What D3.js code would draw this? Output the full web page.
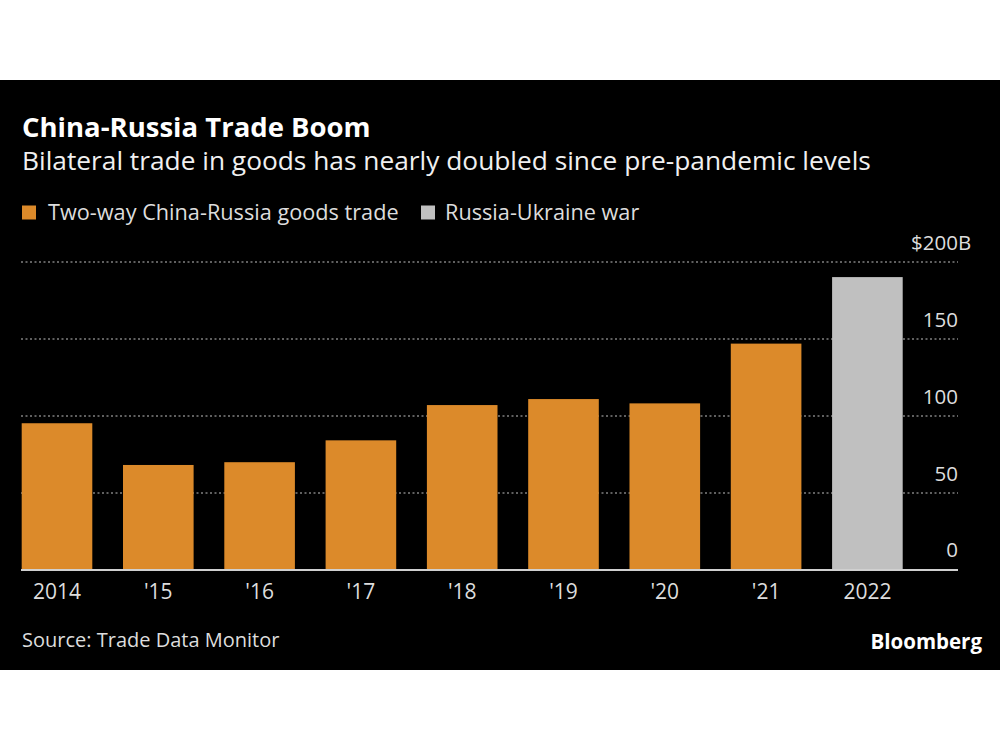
<!DOCTYPE html>
<html>
<head>
<meta charset="utf-8">
<script src="https://cdn.jsdelivr.net/npm/d3@7"></script>
<style>
  html, body { margin: 0; padding: 0; background: #fff; }
  svg { display: block; }
  text { font-family: "Open Sans", "Noto Sans", sans-serif; }
</style>
</head>
<body>
<svg id="chart" width="1000" height="750"></svg>
<script>
const categories = ["2014", "'15", "'16", "'17", "'18", "'19", "'20", "'21", "2022"];
const tradeValues = [95.3, 68.2, 70.0, 84.2, 107.1, 111.0, 108.2, 147.0, 190.2];
const seriesType = ["trade", "trade", "trade", "trade", "trade", "trade", "trade", "trade", "war"];
const yTicks = [0, 50, 100, 150, 200];
const yTickLabels = ["0", "50", "100", "150", "$200"];
const legendLabels = ["Two-way China-Russia goods trade", "Russia-Ukraine war"];

const colors = { trade: "#dc8a2a", war: "#c0c0c0" };
const svg = d3.select("#chart");

// black panel
svg.append("rect").attr("x", 0).attr("y", 80).attr("width", 1000).attr("height", 590).attr("fill", "#000");

// Titles
svg.append("text").attr("x", 22).attr("y", 137).attr("fill", "#fff")
  .attr("font-size", 27.5).attr("font-weight", 700).text("China-Russia Trade Boom");
svg.append("text").attr("x", 22).attr("y", 169.5).attr("fill", "#f0f0f0")
  .attr("font-size", 26.3).text("Bilateral trade in goods has nearly doubled since pre-pandemic levels");

// Legend
const legend = svg.append("g");
const lg1 = legend.append("g").attr("transform", "translate(22,0)");
lg1.append("rect").attr("x", 0).attr("y", 205.5).attr("width", 14).attr("height", 14).attr("fill", colors.trade);
lg1.append("text").attr("x", 26).attr("y", 220).attr("fill", "#ddd").attr("font-size", 21.7).text(legendLabels[0]);
const lg2 = legend.append("g").attr("transform", "translate(421,0)");
lg2.append("rect").attr("x", 0).attr("y", 205.5).attr("width", 14).attr("height", 14).attr("fill", colors.war);
lg2.append("text").attr("x", 24).attr("y", 220).attr("fill", "#ddd").attr("font-size", 21.7).text(legendLabels[1]);

// Scales
const x = d3.scaleBand().domain(categories).range([21.7, 902.7]).paddingInner(0.303).paddingOuter(0);
const y = d3.scaleLinear().domain([0, 200]).range([570, 262]);

// Gridlines
const grid = svg.append("g");
grid.selectAll("line").data(yTicks.filter(d => d > 0)).join("line")
  .attr("x1", 21).attr("x2", 958)
  .attr("y1", d => y(d)).attr("y2", d => y(d))
  .attr("stroke", "#808080").attr("stroke-width", 1.5).attr("stroke-dasharray", "2,2.5");

// Bars
svg.append("g").selectAll("rect").data(categories).join("rect")
  .attr("x", d => x(d))
  .attr("width", x.bandwidth())
  .attr("y", (d, i) => y(tradeValues[i]))
  .attr("height", (d, i) => y(0) - y(tradeValues[i]))
  .attr("fill", (d, i) => colors[seriesType[i]]);

// Baseline
svg.append("line").attr("x1", 21).attr("x2", 958).attr("y1", y(0)).attr("y2", y(0))
  .attr("stroke", "#d0d0d0").attr("stroke-width", 2);

// Y axis labels (right side, above gridlines)
const yAxis = d3.axisRight(y).tickValues(yTicks).tickSize(0)
  .tickFormat((d, i) => yTickLabels[i]);
const yg = svg.append("g").attr("transform", "translate(958,0)").call(yAxis);
yg.select(".domain").remove();
yg.selectAll("text")
  .attr("x", 0).attr("dy", null).attr("dx", null)
  .attr("y", d => d === 0 ? -14 : -12.5)
  .attr("text-anchor", "end")
  .attr("fill", "#ddd")
  .attr("font-size", 20.5)
  .attr("font-family", "'Open Sans', sans-serif");
yg.selectAll(".tick").filter(d => d === 200).append("text")
  .attr("x", 0).attr("y", -12.5).attr("text-anchor", "start")
  .attr("fill", "#ddd").attr("font-size", 20.5).attr("font-family", "'Open Sans', sans-serif")
  .text("B");

// X axis labels
const xAxis = d3.axisBottom(x).tickSize(0);
const xg = svg.append("g").attr("transform", `translate(0,${y(0)})`).call(xAxis);
xg.select(".domain").remove();
xg.selectAll("text")
  .attr("y", 29).attr("dy", null)
  .attr("fill", "#ddd")
  .attr("font-size", 21)
  .attr("font-family", "'Open Sans', sans-serif");

// Source and logo
svg.append("text").attr("x", 22).attr("y", 646.5).attr("fill", "#ddd")
  .attr("font-size", 20).text("Source: Trade Data Monitor");
svg.append("text").attr("x", 982).attr("y", 648.5).attr("text-anchor", "end").attr("fill", "#fff")
  .attr("font-size", 20.5).attr("font-weight", 700).text("Bloomberg");
</script>
</body>
</html>
